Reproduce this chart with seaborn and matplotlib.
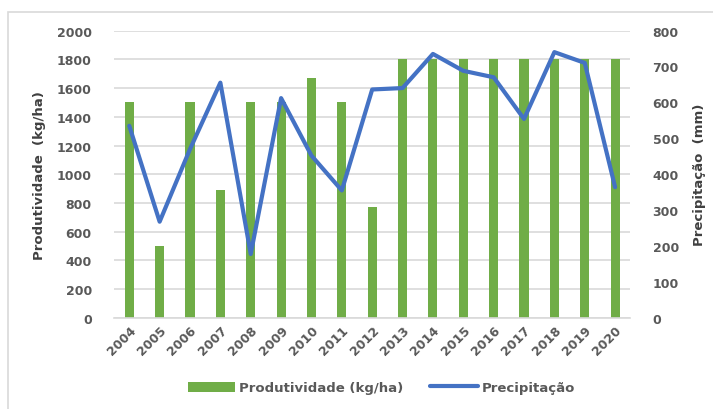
import matplotlib
matplotlib.use("Agg")
import matplotlib.pyplot as plt
from matplotlib.patches import Rectangle
from matplotlib.lines import Line2D
from matplotlib.patches import Patch
import seaborn as sns
import pandas as pd

# Dados
anos = [str(a) for a in range(2004, 2021)]
produtividade = [1500, 500, 1500, 890, 1500, 1500, 1667, 1500, 770,
                 1800, 1800, 1800, 1800, 1800, 1800, 1800, 1800]
precipitacao = [535, 268, 470, 655, 178, 612, 452, 355, 636,
                640, 735, 688, 670, 554, 740, 710, 364]

verde = "#70AD47"
azul = "#4472C4"
cinza_txt = "#595959"
cinza_grid = "#D9D9D9"

sns.set_theme(style="white")
plt.rcParams["font.family"] = ["DejaVu Sans"]

df = pd.DataFrame({"Ano": anos, "Produtividade": produtividade, "Precipitacao": precipitacao})

fig = plt.figure(figsize=(7.13, 4.10), dpi=100)
ax = fig.add_axes([0.160, 0.222, 0.724, 0.701])

# borda externa do gráfico (estilo Excel)
fig.patches.append(Rectangle((8 / 713, -0.05), 1.0, 1.05 - 13 / 410, transform=fig.transFigure,
                             fill=False, edgecolor="#D9D9D9", linewidth=1.2))

sns.barplot(data=df, x="Ano", y="Produtividade", color=verde, width=0.3,
            saturation=1, linewidth=0, edgecolor="none", ax=ax, zorder=2)
ax.set_ylim(0, 2000)
ax.set_yticks(range(0, 2001, 200))
ax.set_xlim(-0.5, 16.5)
ax.yaxis.grid(True, color=cinza_grid, linewidth=1.2, zorder=0)
ax.set_axisbelow(True)
for s in ["top", "right", "left"]:
    ax.spines[s].set_visible(False)
ax.spines["bottom"].set_color(cinza_grid)
ax.spines["bottom"].set_linewidth(1.2)
ax.tick_params(axis="y", length=0, pad=16, labelsize=9, labelcolor=cinza_txt)
ax.tick_params(axis="x", length=0, pad=4, labelsize=9, labelcolor=cinza_txt)
for lab in ax.get_yticklabels():
    lab.set_fontweight("bold")
for lab in ax.get_xticklabels():
    lab.set_rotation(45)
    lab.set_ha("right")
    lab.set_rotation_mode("anchor")
    lab.set_fontweight("bold")
ax.set_xlabel("")
ax.set_ylabel("Produtividade  (kg/ha)", fontsize=9.5, fontweight="bold", color="#404040", labelpad=8)

ax2 = ax.twinx()
sns.lineplot(x=list(range(len(anos))), y=precipitacao, color=azul, linewidth=3,
             ax=ax2, zorder=3)
ax2.set_ylim(0, 800)
ax2.set_yticks(range(0, 801, 100))
for s in ax2.spines.values():
    s.set_visible(False)
ax2.tick_params(axis="y", length=0, pad=16, labelsize=9, labelcolor=cinza_txt)
for lab in ax2.get_yticklabels():
    lab.set_fontweight("bold")
ax2.set_ylabel("Precipitação  (mm)", fontsize=9.5, fontweight="bold", color="#404040", labelpad=10)

handles = [Patch(facecolor=verde, edgecolor="none"),
           Line2D([0], [0], color=azul, linewidth=3)]
fig.legend(handles, ["Produtividade (kg/ha)", "Precipitação"], loc="center",
           bbox_to_anchor=(0.535, 0.052), ncol=2, frameon=False,
           prop={"size": 9.5, "weight": "bold"}, labelcolor=cinza_txt,
           handlelength=3.6, handleheight=0.8, handletextpad=0.3, columnspacing=2.0)

fig.savefig("out.png", dpi=100)
